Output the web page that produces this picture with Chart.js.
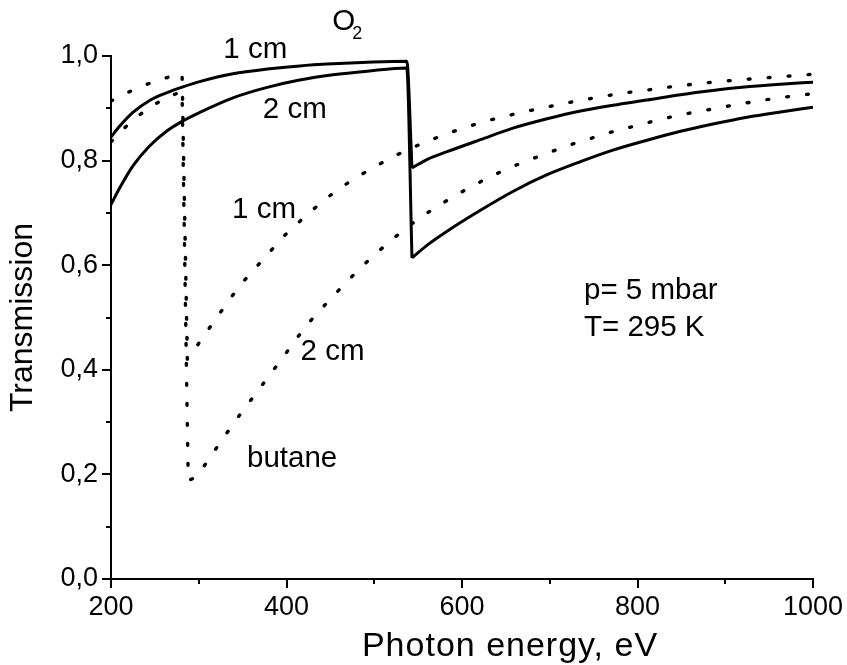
<!DOCTYPE html>
<html><head><meta charset="utf-8">
<script src="https://cdn.jsdelivr.net/npm/chart.js@4.4.0/dist/chart.umd.min.js"></script>
<style>html,body{margin:0;padding:0;background:#fff}#wrap{width:847px;height:665px}</style>
</head><body><div id="wrap"><canvas id="c"></canvas></div>
<script>
// ---- data ----
const xTickValues = [200, 400, 600, 800, 1000];
const xTickLabels = ['200', '400', '600', '800', '1000'];
const xMinorTicks = [300, 500, 700, 900];
const yTickValues = [0, 0.2, 0.4, 0.6, 0.8, 1.0];
const yTickLabels = ['0,0', '0,2', '0,4', '0,6', '0,8', '1,0'];
const yMinorTicks = [0.1, 0.3, 0.5, 0.7, 0.9];
const xTitle = 'Photon energy, eV';
const yTitle = 'Transmission';

// O2, 1 cm (solid)
const o2Cm1Energy = [200,210,225,244,264,282,301,339,378,415,453,492,537,543,560,583,621,658,697,735,772,811,849,886,925,963,1000];
const o2Cm1Trans  = [0.845,0.866,0.892,0.915,0.930,0.941,0.951,0.966,0.975,0.981,0.985,0.988,0.990,0.786,0.802,0.817,0.840,0.862,0.880,0.895,0.906,0.916,0.926,0.934,0.941,0.946,0.950];
// O2, 2 cm (solid)
const o2Cm2Energy = [200,210,225,244,264,282,301,339,378,415,453,492,537,543,560,583,621,658,697,735,772,811,849,886,925,963,1000];
const o2Cm2Trans  = [0.716,0.748,0.790,0.828,0.857,0.876,0.892,0.920,0.940,0.954,0.964,0.971,0.977,0.614,0.638,0.665,0.705,0.741,0.773,0.798,0.820,0.839,0.856,0.870,0.883,0.893,0.902];
// butane, 1 cm (dotted)
const butCm1Energy = [200,225,247,270,281,287,290,305,321,337,355,376,396,419,441,463,487,510,533,556,579,601,624,647,670,693,715,738,761,784,807,829,852,875,898,921,943,967,990,1000];
const butCm1Trans  = [0.914,0.935,0.950,0.962,0.966,0.420,0.426,0.463,0.501,0.539,0.577,0.616,0.654,0.690,0.722,0.750,0.775,0.797,0.817,0.834,0.849,0.862,0.874,0.884,0.893,0.901,0.909,0.916,0.923,0.929,0.934,0.939,0.944,0.948,0.952,0.955,0.958,0.961,0.964,0.965];
// butane, 2 cm (dotted)
const butCm2Energy = [200,220,242,265,281,288,298,313,329,345,362,379,396,412,430,451,473,495,518,541,564,587,609,632,655,678,700,723,746,769,792,815,837,860,883,906,930,953,975,1000];
const butCm2Trans  = [0.836,0.870,0.900,0.922,0.932,0.188,0.196,0.233,0.272,0.310,0.348,0.386,0.424,0.461,0.499,0.537,0.576,0.612,0.646,0.677,0.704,0.728,0.749,0.769,0.787,0.802,0.816,0.830,0.842,0.854,0.864,0.874,0.883,0.891,0.898,0.905,0.912,0.918,0.923,0.928];

// annotation texts (anchored in data units)
const annotations = [
  {text: '1 cm', e: 328, t: 0.996},
  {text: '2 cm', e: 373, t: 0.881},
  {text: '1 cm', e: 338, t: 0.690},
  {text: '2 cm', e: 416, t: 0.419},
  {text: 'butane', e: 355, t: 0.214},
  {text: 'p= 5 mbar', e: 739, t: 0.535},
  {text: 'T= 295 K', e: 739, t: 0.465}
];
const gasLabel = {main: 'O', sub: '2', e: 452, t: 1.050, subE: 475, subT: 1.033};

// ---- chart ----
const FONT = "'Liberation Sans', Arial, sans-serif";
const pts = (xs, ys, a, b) => xs.slice(a, b).map((x, i) => ({x: x, y: ys[a + i]}));
const edgeIndex = ys => ys.findIndex((v, i) => i > 0 && v < ys[i - 1] - 0.1);

const solid = {borderColor: '#000', borderWidth: 3, pointRadius: 0, fill: false, cubicInterpolationMode: 'monotone', borderJoinStyle: 'miter'};
const dotted = {borderColor: '#000', borderWidth: 3.4, pointRadius: 0, fill: false, borderDash: [1.8, 18.2], borderCapStyle: 'round', tension: 0};

function solidSets(name, xs, ys) {
  const k = edgeIndex(ys);
  return [
    Object.assign({label: name + ' below edge', data: pts(xs, ys, 0, k + 1)}, solid),
    Object.assign({label: name + ' above edge', data: pts(xs, ys, k, xs.length)}, solid)
  ];
}

const extras = {
  id: 'extras',
  afterDraw(chart) {
    const ctx = chart.ctx, xs = chart.scales.x, ys = chart.scales.y, ca = chart.chartArea;
    ctx.save();
    ctx.strokeStyle = '#000';
    ctx.lineWidth = 2;
    xMinorTicks.forEach(v => {
      const px = Math.round(xs.getPixelForValue(v));
      ctx.beginPath(); ctx.moveTo(px, ca.bottom); ctx.lineTo(px, ca.bottom + 5); ctx.stroke();
    });
    yMinorTicks.forEach(v => {
      const py = Math.round(ys.getPixelForValue(v));
      ctx.beginPath(); ctx.moveTo(ca.left, py); ctx.lineTo(ca.left - 5, py); ctx.stroke();
    });
    ctx.fillStyle = '#000';
    ctx.textAlign = 'left';
    ctx.textBaseline = 'alphabetic';
    ctx.font = '29.5px ' + FONT;
    annotations.forEach(a => {
      ctx.fillText(a.text, xs.getPixelForValue(a.e), ys.getPixelForValue(a.t));
    });
    ctx.fillText(gasLabel.main, xs.getPixelForValue(gasLabel.e), ys.getPixelForValue(gasLabel.t));
    ctx.font = '18px ' + FONT;
    ctx.fillText(gasLabel.sub, xs.getPixelForValue(gasLabel.subE), ys.getPixelForValue(gasLabel.subT));
    // x axis title
    ctx.font = '34px ' + FONT;
    ctx.textAlign = 'center';
    if ('letterSpacing' in ctx) ctx.letterSpacing = '1px';
    ctx.fillText(xTitle, (ca.left + ca.right) / 2 + 48, 656);
    ctx.restore();
  }
};

new Chart(document.getElementById('c'), {
  type: 'line',
  data: {
    datasets: [
      ...solidSets('O2 1 cm', o2Cm1Energy, o2Cm1Trans),
      ...solidSets('O2 2 cm', o2Cm2Energy, o2Cm2Trans),
      Object.assign({label: 'butane 1 cm', data: pts(butCm1Energy, butCm1Trans, 0, butCm1Energy.length)}, dotted),
      Object.assign({label: 'butane 2 cm', data: pts(butCm2Energy, butCm2Trans, 0, butCm2Energy.length)}, dotted)
    ]
  },
  options: {
    responsive: true,
    maintainAspectRatio: false,
    animation: false,
    layout: {padding: {left: 0, right: 34, top: 56, bottom: 0}},
    plugins: {legend: {display: false}, tooltip: {enabled: false}},
    scales: {
      x: {
        type: 'linear', min: 200, max: 1000,
        afterFit: s => { s.height = 86; },
        afterBuildTicks: s => { s.ticks = xTickValues.map(v => ({value: v})); },
        ticks: {
          color: '#000', font: {family: FONT, size: 27}, padding: 3, maxRotation: 0, autoSkip: false,
          callback: (v) => xTickLabels[xTickValues.indexOf(v)]
        },
        grid: {drawOnChartArea: false, drawTicks: true, tickLength: 9, color: '#000', lineWidth: 2},
        border: {display: true, color: '#000', width: 2},
        title: {display: false}
      },
      y: {
        type: 'linear', min: 0, max: 1,
        afterFit: s => { s.width = 111; },
        afterBuildTicks: s => { s.ticks = yTickValues.map(v => ({value: v})); },
        ticks: {
          color: '#000', font: {family: FONT, size: 27}, padding: 4, autoSkip: false,
          callback: (v) => yTickLabels[yTickValues.findIndex(t => Math.abs(t - v) < 1e-9)]
        },
        grid: {drawOnChartArea: false, drawTicks: true, tickLength: 9, color: '#000', lineWidth: 2},
        border: {display: true, color: '#000', width: 2},
        title: {display: true, text: yTitle, color: '#000', font: {family: FONT, size: 32}, padding: {top: 4, bottom: 0}}
      }
    }
  },
  plugins: [extras]
});
</script>
</body></html>
